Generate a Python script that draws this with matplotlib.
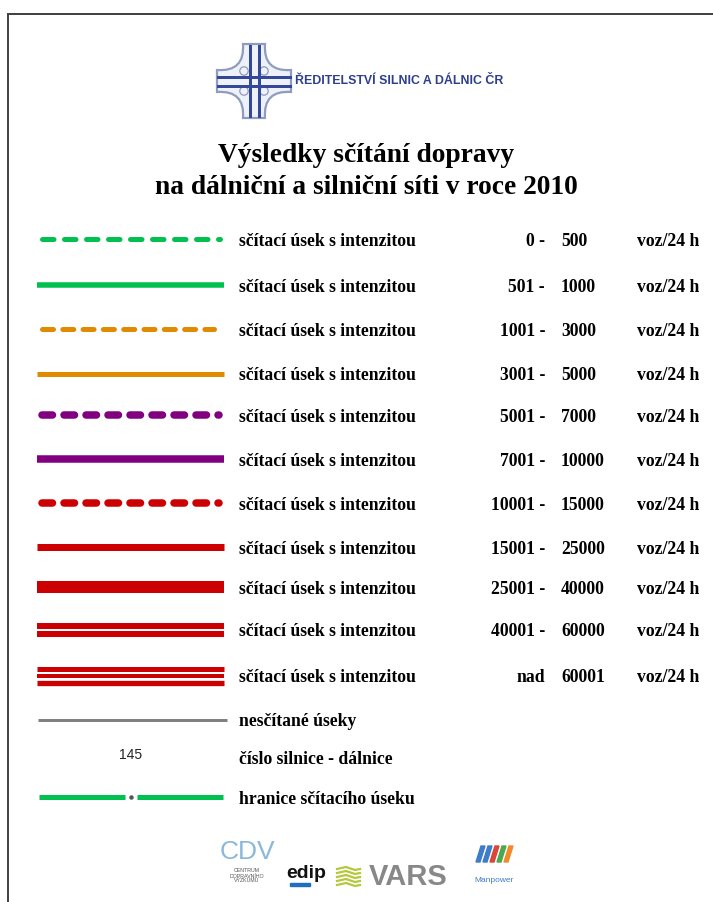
"""Legend sheet: traffic census 2010 (ŘSD ČR) redrawn with matplotlib."""
import matplotlib
matplotlib.use("Agg")
import matplotlib.pyplot as plt
from matplotlib.path import Path
from matplotlib.patches import PathPatch, Circle, Rectangle, Polygon

plt.rcParams["lines.scale_dashes"] = False

W, H = 713, 902
PX = 0.72  # points per pixel at dpi=100

# ---- data -------------------------------------------------------------
range_lo = ["0 -", "501 -", "1001 -", "3001 -", "5001 -", "7001 -",
            "10001 -", "15001 -", "25001 -", "40001 -", "nad"]
range_hi = ["500", "1000", "3000", "5000", "7000", "10000",
            "15000", "25000", "40000", "60000", "60001"]
row_label = "sčítací úsek s intenzitou"
unit_label = "voz/24 h"
line_colors = ["#00c050", "#00c050", "#e08a00", "#e08a00", "#800080", "#800080",
               "#cc0000", "#cc0000", "#cc0000", "#cc0000", "#cc0000"]
# (kind, stroke px) per class
line_kind = ["dash", "solid", "dash", "solid", "dash", "solid",
             "dash", "solid", "solid", "double", "triple"]
line_px = [5, 5.5, 5, 5, 7.5, 7.5, 7.5, 7, 12, 6, 5]
row_y = [239, 285, 329, 374, 415, 459, 503, 547, 587, 630, 676]

extra_labels = ["nesčítané úseky", "číslo silnice - dálnice", "hranice sčítacího úseku"]
extra_y = [720, 758, 798]
road_number = "145"

title_lines = ["Výsledky sčítání dopravy", "na dálniční a silniční síti v roce 2010"]

SERIF = ["Liberation Serif", "DejaVu Serif"]
SANS = ["Liberation Sans", "DejaVu Sans"]
FS = 12.7

fig = plt.figure(figsize=(W / 100, H / 100), dpi=100)
ax = fig.add_axes([0, 0, 1, 1])
ax.set_xlim(0, W)
ax.set_ylim(H, 0)
ax.axis("off")

# frame (left + top edge only visible)
ax.plot([8, 8, W], [H, 14, 14], color="#444444", lw=2 * PX, solid_joinstyle="miter")

# ---- ŘSD logo -----------------------------------------------------------
cx, cy = 254, 81
verts, codes = [], []
arm = 11   # half width of the arm tips
r = 37     # reach of the arms
corners = [
    ((-arm, -r), (arm, -r)),     # top
    ((r, -arm), (r, arm)),       # right
    ((arm, r), (-arm, r)),       # bottom
    ((-r, arm), (-r, -arm)),     # left
]
ctrl = [(9, -9), (9, 9), (-9, 9), (-9, -9)]
for i, (a, b) in enumerate(corners):
    verts.append((cx + a[0], cy + a[1]))
    codes.append(Path.MOVETO if i == 0 else Path.LINETO)
    verts.append((cx + b[0], cy + b[1])); codes.append(Path.LINETO)
    nxt = corners[(i + 1) % 4][0]
    c = ctrl[i]
    verts.append((cx + c[0], cy + c[1])); codes.append(Path.CURVE3)
    verts.append((cx + nxt[0], cy + nxt[1])); codes.append(Path.CURVE3)
codes.append(Path.CLOSEPOLY); verts.append(verts[0])
ax.add_patch(PathPatch(Path(verts, codes), facecolor="#eef1f8",
                       edgecolor="#8f9cc0", lw=1.6))
for dx, dy in [(-10, -10), (10, -10), (-10, 10), (10, 10)]:
    ax.add_patch(Circle((cx + dx, cy + dy), 4.2, facecolor="none",
                        edgecolor="#8f9cc0", lw=0.9))
for off in (-4.5, 4.5):
    ax.plot([cx + off, cx + off], [cy - 35, cy + 35], color="#34489a", lw=3 * PX)
    ax.plot([cx - 36, cx + 36], [cy + off, cy + off], color="#34489a", lw=3 * PX)
ax.text(295, 81, "ŘEDITELSTVÍ SILNIC A DÁLNIC ČR", family=SANS, weight="bold",
        fontsize=8.9, color="#2e3f8f", ha="left", va="center")

# ---- title --------------------------------------------------------------
for txt, y in zip(title_lines, [155, 187]):
    ax.text(366, y, txt, family=SERIF, weight="bold", fontsize=19.8,
            ha="center", va="center", color="black")

# ---- legend rows --------------------------------------------------------
X0, X1 = 37, 224
dash_geom = {  # colour class -> (visible dash px, period px, start px, end px)
    0: (16.5, 22, 39, 222),
    2: (16, 20.3, 39.3, 216.7),
    4: (18, 22, 38.3, 223),
    6: (18, 22, 38.3, 223),
}
for i, y in enumerate(row_y):
    col, kind, px = line_colors[i], line_kind[i], line_px[i]
    if kind == "dash":
        dash_len, period, xs, xe = dash_geom[i]
        on = (dash_len - px) * PX
        off = (period - dash_len + px) * PX
        ax.plot([xs + px / 2, xe - px / 2], [y, y], color=col,
                lw=px * PX, dashes=(on, off), dash_capstyle="round")
    elif kind == "solid":
        ax.plot([X0, X1], [y, y], color=col, lw=px * PX, solid_capstyle="butt")
    elif kind == "double":
        for off in (-4.3, 4.3):
            ax.plot([X0, X1], [y + off, y + off], color=col, lw=px * PX,
                    solid_capstyle="butt")
    else:
        for off, w in zip((-7, 0, 7), (5, 4, 5.3)):
            ax.plot([X0, X1], [y + off, y + off], color=col, lw=w * PX,
                    solid_capstyle="butt")

    ty = y + 2
    ax.text(239, ty, row_label, family=SERIF, weight="bold", fontsize=FS,
            ha="left", va="center")
    ax.text(545, ty, range_lo[i], family=SERIF, weight="bold", fontsize=FS,
            ha="right", va="center")
    ax.text(561, ty, range_hi[i], family=SERIF, weight="bold", fontsize=FS,
            ha="left", va="center")
    ax.text(637, ty, unit_label, family=SERIF, weight="bold", fontsize=FS,
            ha="left", va="center")

# uncounted sections
ax.plot([38, 227], [extra_y[0], extra_y[0]], color="#808080", lw=3 * PX,
        solid_capstyle="butt")
# road number sample
ax.text(131, extra_y[1] - 3, road_number, family=SANS, fontsize=10,
        ha="center", va="center", color="#222222")
# section boundary
ax.plot([39, 125], [extra_y[2] - 1, extra_y[2] - 1], color="#00c050", lw=5 * PX,
        solid_capstyle="butt")
ax.plot([137, 223], [extra_y[2] - 1, extra_y[2] - 1], color="#00c050", lw=5 * PX,
        solid_capstyle="butt")
ax.plot([131], [extra_y[2] - 1], "o", color="#555555", ms=4.5 * PX, mew=0)
for txt, y in zip(extra_labels, extra_y):
    ax.text(239, y + 1, txt, family=SERIF, weight="bold", fontsize=FS,
            ha="left", va="center")

# ---- partner logos (approximate) ---------------------------------------
# CDV
ax.text(247, 852, "CDV", family=SANS, fontsize=19, color="#8ab8dc",
        ha="center", va="center")
ax.text(247, 876, "CENTRUM\nDOPRAVNÍHO\nVÝZKUMU", family=SANS, fontsize=3.8,
        color="#555555", ha="center", va="center", linespacing=1.0)
# edip
ax.text(306, 873, "edip", family=SANS, weight="bold", fontsize=14,
        color="#111111", ha="center", va="center")
ax.add_patch(Rectangle((290, 883), 20, 2.5, color="#1e6fc0"))
# VARS
for k in range(5):
    ax.plot([337, 346, 355, 360], [869 + k * 4, 867 + k * 4, 870 + k * 4, 869 + k * 4],
            color="#b4c83a", lw=2.2 * PX)
ax.text(408, 877, "VARS", family=SANS, weight="bold", fontsize=21,
        color="#888888", ha="center", va="center")
# Manpower
mp_cols = ["#3d7cc9", "#3d7cc9", "#d9463a", "#4aa84e", "#f08a2a"]
for k, c in enumerate(mp_cols):
    x = 476 + k * 7
    ax.add_patch(Polygon([(x, 862), (x + 4, 862), (x + 9, 846), (x + 5, 846)],
                         closed=True, color=c))
ax.text(494, 880, "Manpower", family=SANS, fontsize=6, color="#3d7cc9",
        ha="center", va="center")

fig.savefig("out.png", dpi=100, facecolor="white")
